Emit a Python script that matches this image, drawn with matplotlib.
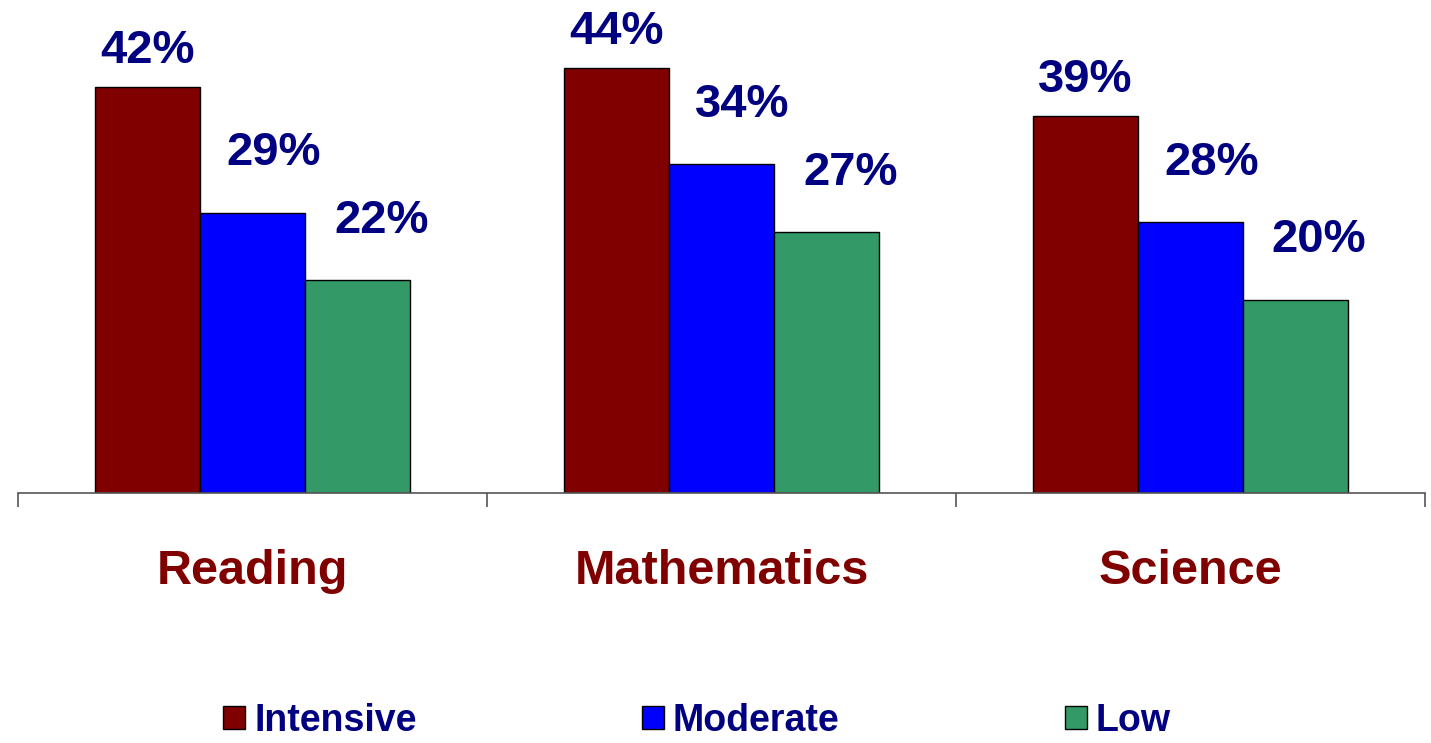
import matplotlib
matplotlib.use("Agg")
import matplotlib.pyplot as plt
import numpy as np
from matplotlib.patches import Patch

# data
subjects = ["Reading", "Mathematics", "Science"]
series = ["Intensive", "Moderate", "Low"]
intensive = [42, 44, 39]
moderate = [29, 34, 28]
low = [22, 27, 20]

colors = ["#800000", "#0000FF", "#339966"]
label_color = "#000080"
cat_color = "#800000"

plt.rcParams['font.family'] = ['Liberation Sans', 'DejaVu Sans']

fig = plt.figure(figsize=(14.31, 7.43), dpi=100)
ax = fig.add_axes([0.0126, 0.3365, 0.9832, 0.6507])

centers = np.arange(len(subjects)) + 0.5
width = 0.224
offsets = [-width, 0, width]
# label offsets in points (dx, dy) for each series
label_offsets = [(0, 17), (15, 34), (17, 34)]

for vals, off, col, (dx, dy) in zip([intensive, moderate, low], offsets, colors, label_offsets):
    bars = ax.bar(centers + off, vals, width=width, color=col, edgecolor="black", linewidth=1)
    for b, v in zip(bars, vals):
        ax.annotate(f"{v}%", (b.get_x() + b.get_width() / 2, b.get_height()),
                    xytext=(dx, dy), textcoords="offset points",
                    ha="center", va="baseline", fontsize=34, fontweight="bold",
                    color=label_color, annotation_clip=False)

ax.set_xlim(0, 3)
ax.set_ylim(0, 50)
for s in ["top", "right", "left"]:
    ax.spines[s].set_visible(False)
ax.spines["bottom"].set_color("#555555")
ax.spines["bottom"].set_linewidth(1.2)
ax.set_yticks([])

ax.set_xticks([0, 1, 2, 3])
ax.set_xticklabels([])
ax.tick_params(axis="x", which="major", direction="out", length=10, width=1.2, color="#555555")
ax.set_xticks(centers, minor=True)
ax.set_xticklabels(subjects, minor=True, fontsize=35, fontweight="bold", color=cat_color)
ax.tick_params(axis="x", which="minor", length=0, pad=40)

handles = [Patch(facecolor=c, edgecolor="black", linewidth=1) for c in colors]
fig.legend(handles, series, loc="lower center", bbox_to_anchor=(0.487, -0.04), ncol=3,
           frameon=False, handlelength=0.59, handleheight=0.55, handletextpad=0.24,
           columnspacing=6.0,
           prop={"weight": "bold", "size": 27},
           labelcolor=label_color)

fig.savefig("out.png", dpi=100)
